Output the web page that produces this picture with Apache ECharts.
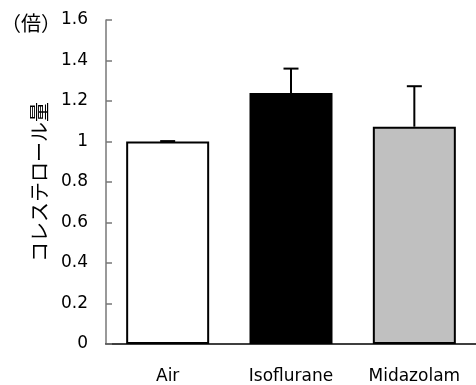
<!DOCTYPE html>
<html><head><meta charset="utf-8">
<script src="https://cdn.jsdelivr.net/npm/echarts@6/dist/echarts.min.js"></script>
<style>html,body{margin:0;padding:0;background:#fff}#c{width:476px;height:385px}</style>
</head><body><div id="c"></div>
<script>
const categories = ['Air', 'Isoflurane', 'Midazolam'];
const means = [1.0, 1.24, 1.073];
const errs = [0.002, 0.12, 0.2];
const barColors = ['#ffffff', '#000000', '#c0c0c0'];
const yTicks = [0, 0.2, 0.4, 0.6, 0.8, 1, 1.2, 1.4, 1.6];

const FONT = '"DejaVu Sans", "Noto Sans CJK JP", sans-serif';
const chart = echarts.init(document.getElementById('c'));
chart.setOption({
  animation: false,
  backgroundColor: '#fff',
  title: {
    text: '（倍）', left: -4, top: 8,
    textStyle: { fontSize: 20, fontWeight: 'normal', color: '#000', fontFamily: '"Noto Sans CJK JP", sans-serif' }
  },
  grid: { left: 106, top: 20, width: 370, height: 324 },
  xAxis: {
    type: 'category', data: categories,
    axisLine: { lineStyle: { color: '#000', width: 1.5 } },
    axisTick: { inside: true, length: 5, alignWithLabel: false, lineStyle: { color: '#777', width: 1.5 } },
    axisLabel: { color: '#000', fontSize: 17, fontFamily: FONT, margin: 24 }
  },
  yAxis: {
    type: 'value', min: yTicks[0], max: yTicks[yTicks.length - 1], interval: 0.2,
    name: 'コレステロール量', nameLocation: 'middle', nameRotate: 90, nameGap: 57,
    nameTextStyle: { fontSize: 20, color: '#000', fontFamily: '"Noto Sans CJK JP", sans-serif' },
    axisLine: { show: true, lineStyle: { color: '#777', width: 1.5 } },
    axisTick: { show: true, inside: true, length: 6, lineStyle: { color: '#777', width: 1.5 } },
    splitLine: { show: false },
    axisLabel: { color: '#000', fontSize: 17, fontFamily: FONT, margin: 18,
      formatter: v => String(Math.round(v * 10) / 10) }
  },
  series: [
    {
      type: 'bar', barWidth: 83, z: 2,
      data: means.map((v, i) => ({ value: v, itemStyle: { color: barColors[i] } })),
      itemStyle: { borderColor: '#000', borderWidth: 2 }
    },
    {
      type: 'custom', z: 3,
      data: means.map((v, i) => [i, v, v + errs[i]]),
      renderItem: (params, api) => {
        const p0 = api.coord([api.value(0), api.value(1)]);
        const p1 = api.coord([api.value(0), api.value(2)]);
        const hw = 7.5;
        return {
          type: 'group',
          children: [
            { type: 'line', shape: { x1: p0[0], y1: p0[1], x2: p1[0], y2: p1[1] }, style: { stroke: '#000', lineWidth: 2 } },
            { type: 'line', shape: { x1: p1[0] - hw, y1: p1[1], x2: p1[0] + hw, y2: p1[1] }, style: { stroke: '#000', lineWidth: 2 } }
          ]
        };
      }
    }
  ]
});
</script></body></html>
